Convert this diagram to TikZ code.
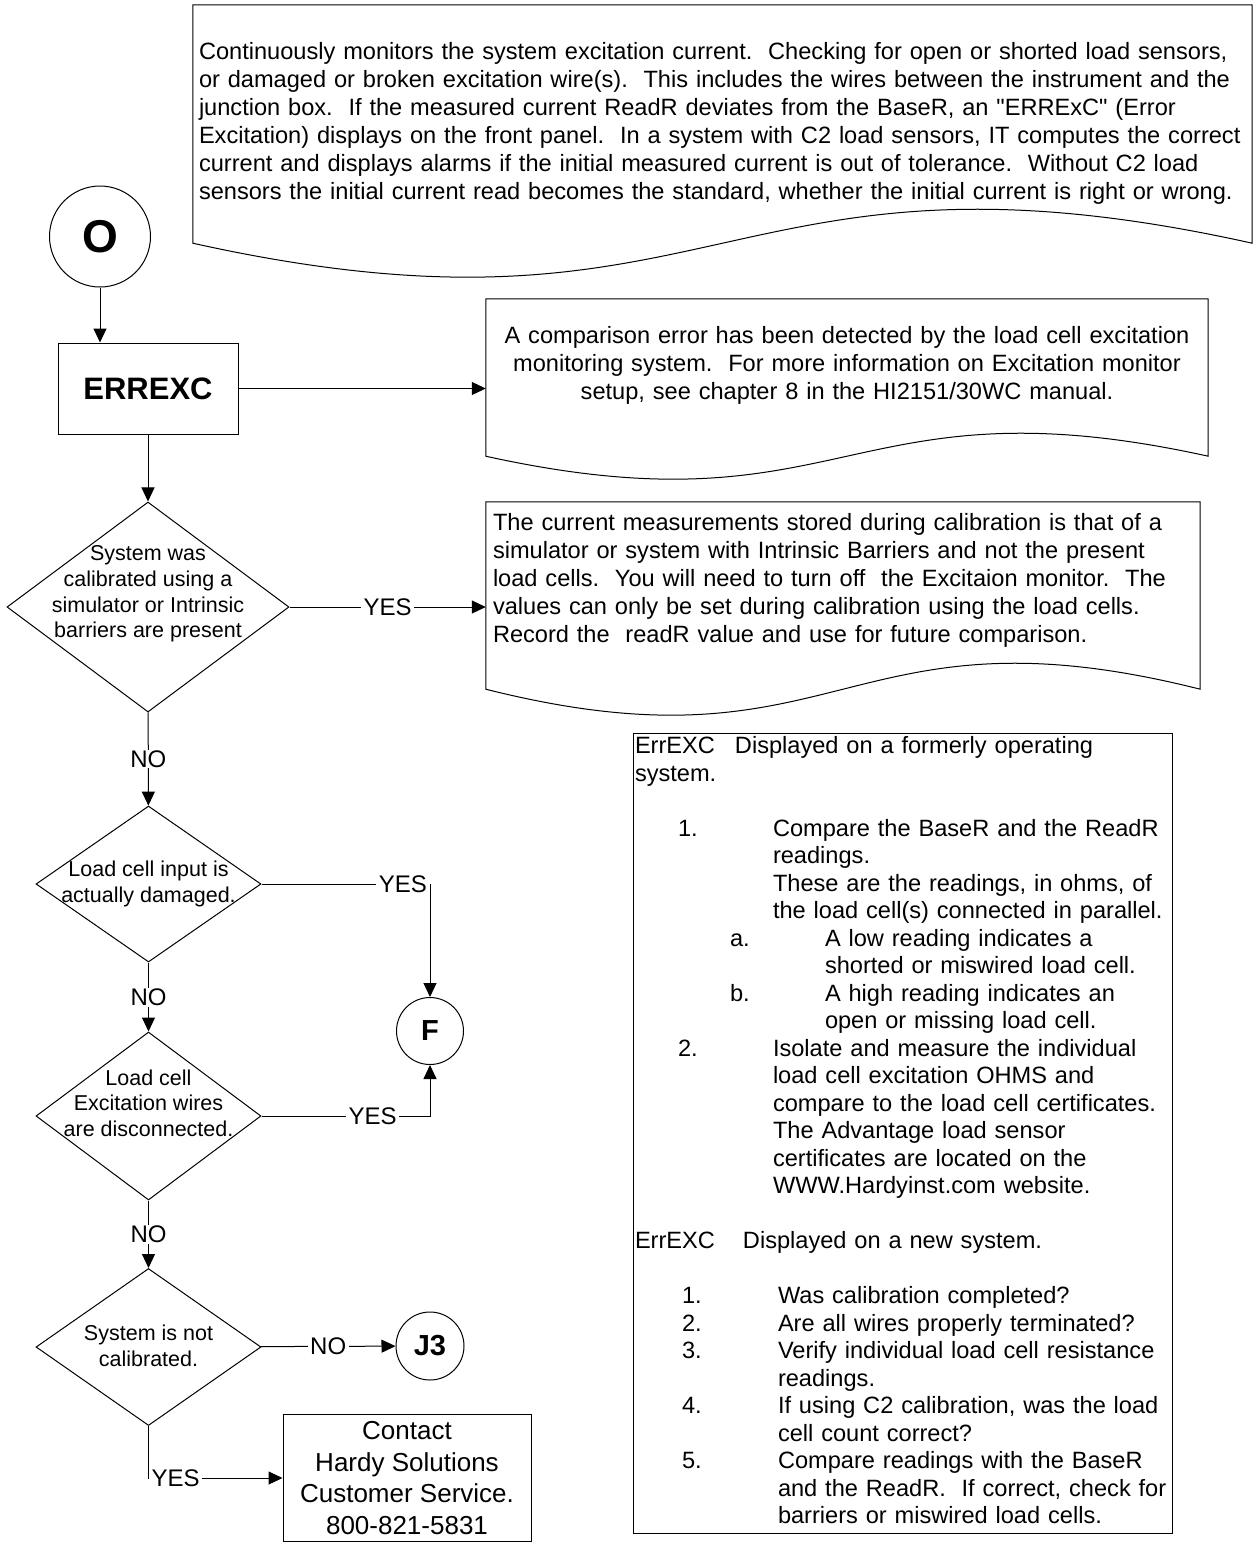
\documentclass[tikz,border=0pt]{standalone}
\usepackage{fontspec}
\setmainfont{Liberation Sans}
\usepackage{tikz}
\usetikzlibrary{arrows.meta,calc,shapes.geometric}
\tikzset{
  flow/.style={-{Triangle[length=14pt,width=13pt]},line width=1pt},
  link/.style={line width=1pt},
  process/.style={draw,line width=1pt,rectangle,inner sep=0pt,align=center},
  docbox/.style={rectangle,inner ysep=0pt,font=\fontsize{23.6}{28}\selectfont},
  decision/.style={draw,line width=1pt,diamond,inner sep=0pt},
  question/.style={inner sep=0pt,align=center,font=\fontsize{21.5}{25.6}\selectfont},
  connector/.style={draw,line width=1pt,circle,inner sep=0pt,
    font=\fontsize{29}{32}\selectfont\bfseries},
  answer/.style={fill=white,inner xsep=2.5pt,inner ysep=1pt,
    font=\fontsize{24}{28}\selectfont}
}
\newcommand{\docoutline}[3]{%
  \draw[link] ($(#1.south west)+(0,#2)$) -- (#1.north west) -- (#1.north east)
    -- ($(#1.south east)+(0,#2)$)
    .. controls ($(#1.south)+(0,{#2-3.46*#3})$) and ($(#1.south)+(0,{#2+3.46*#3})$)
    .. ($(#1.south west)+(0,#2)$) -- cycle;}
\newcommand{\numitem}[3]{\hspace*{#1}\makebox[#2][l]{#3}}

\begin{document}
\begin{tikzpicture}[x=1pt,y=-1pt]
  \useasboundingbox (0,0) rectangle (1255,1543);
  \node[docbox,minimum width=1059pt,minimum height=238pt,inner xsep=6pt,
    text width=1047pt,align=left] (monitor) at (722.5,124)
    {\begin{tabular}{@{}l@{}}
     Continuously monitors the system excitation current.\ \ Checking for open or shorted load sensors,\\
     or damaged or broken excitation wire(s).\ \ This includes the wires between the instrument and the\\
     junction box.\ \ If the measured current ReadR deviates from the BaseR, an \textquotedbl ERRExC\textquotedbl\ (Error\\
     Excitation) displays on the front panel.\ \ In a system with C2 load sensors, IT computes the correct\\
     current and displays alarms if the initial measured current is out of tolerance.\ \ Without C2 load\\
     sensors the initial current read becomes the standard, whether the initial current is right or wrong.
     \end{tabular}};
  \docoutline{monitor}{0}{34}
  \node[connector,minimum size=101pt,font=\fontsize{46}{50}\selectfont\bfseries]
    (start) at (100,236.5) {O};
  \node[process,minimum width=180pt,minimum height=91pt,
    font=\fontsize{31}{36}\selectfont\bfseries] (errexc) at (148,388.5) {ERREXC};
  \node[docbox,minimum width=722pt,minimum height=134pt,inner xsep=11pt,
    text width=700pt,align=center] (compare) at (847,366)
    {\begin{tabular}{@{}c@{}}
     A comparison error has been detected by the load cell excitation\\
     monitoring system.\ \ For more information on Excitation monitor\\
     setup, see chapter 8 in the HI2151/30WC manual.
     \end{tabular}};
  \docoutline{compare}{23}{23}
  \node[decision,minimum width=282pt,minimum height=210pt] (calib) at (148,607) {};
  \node[question] (calibq) at ($(calib)+(0,-13)$)
    {System was\\calibrated using a\\simulator or Intrinsic\\barriers are present};
  \node[docbox,minimum width=714pt,minimum height=157pt,inner xsep=7pt,
    text width=700pt,align=left] (barrier) at (843,580.5)
    {\begin{tabular}{@{}l@{}}
     The current measurements stored during calibration is that of a\\
     simulator or system with Intrinsic Barriers and not the present\\
     load cells.\ \ You will need to turn off\ \ the Excitaion monitor.\ \ The\\
     values can only be set during calibration using the load cells.\\
     Record the\ \ readR value and use for future comparison.
     \end{tabular}};
  \docoutline{barrier}{30}{26}
  \node[decision,minimum width=225pt,minimum height=156pt] (damaged) at (148.5,884) {};
  \node[question] (damagedq) at (damaged) {Load cell input is\\actually damaged.};
  \node[decision,minimum width=225pt,minimum height=168pt] (wires) at (148.5,1116) {};
  \node[question] (wiresq) at ($(wires)+(0,-13)$)
    {Load cell\\Excitation wires\\are disconnected.};
  \node[decision,minimum width=225pt,minimum height=157pt] (notcal) at (148.5,1347) {};
  \node[question] (notcalq) at ($(notcal)+(0,-1)$) {System is not\\calibrated.};
  \node[connector,minimum size=67pt] (fconn) at (430,1031) {F};
  \node[connector,minimum size=68pt] (jthree) at (430,1346) {J3};
  \node[process,minimum width=248pt,minimum height=127pt,
    font=\fontsize{26}{31.7}\selectfont] (contact) at (407,1478)
    {Contact\\Hardy Solutions\hspace*{14pt}\\Customer Service.\\800-821-5831};
  \node[process,minimum width=539pt,minimum height=800pt,inner xsep=2pt,
    text width=535pt,align=left,font=\fontsize{23.6}{27.5}\selectfont]
    (notes) at (902.5,1133)
    {\begin{tabular}{@{}l@{}}
     \makebox[100pt][l]{ErrEXC}Displayed on a formerly operating\\
     system.\\
     \\
     \numitem{43pt}{95pt}{1.}Compare the BaseR and the ReadR\\
     \hspace*{138pt}readings.\\
     \hspace*{138pt}These are the readings, in ohms, of\\
     \hspace*{138pt}the load cell(s) connected in parallel.\\
     \numitem{95pt}{95pt}{a.}A low reading indicates a\\
     \hspace*{190pt}shorted or miswired load cell.\\
     \numitem{95pt}{95pt}{b.}A high reading indicates an\\
     \hspace*{190pt}open or missing load cell.\\
     \numitem{43pt}{95pt}{2.}Isolate and measure the individual\\
     \hspace*{138pt}load cell excitation OHMS and\\
     \hspace*{138pt}compare to the load cell certificates.\\
     \hspace*{138pt}The Advantage load sensor\\
     \hspace*{138pt}certificates are located on the\\
     \hspace*{138pt}WWW.Hardyinst.com website.\\
     \\
     \makebox[108pt][l]{ErrEXC}Displayed on a new system.\\
     \\
     \numitem{47pt}{96pt}{1.}Was calibration completed?\\
     \numitem{47pt}{96pt}{2.}Are all wires properly terminated?\\
     \numitem{47pt}{96pt}{3.}Verify individual load cell resistance\\
     \hspace*{143pt}readings.\\
     \numitem{47pt}{96pt}{4.}If using C2 calibration, was the load\\
     \hspace*{143pt}cell count correct?\\
     \numitem{47pt}{96pt}{5.}Compare readings with the BaseR\\
     \hspace*{143pt}and the ReadR.\ \ If correct, check for\\
     \hspace*{143pt}barriers or miswired load cells.
     \end{tabular}};
  \draw[flow] (start.south) -- (start.south |- errexc.north);
  \draw[flow] (errexc) -- (errexc -| compare.west);
  \draw[flow] (errexc) -- (calib);
  \draw[flow] (calib) -- node[answer] {YES} (calib -| barrier.west);
  \draw[flow] (calib) -- node[answer] {NO} (damaged);
  \draw[flow] (damaged) -| node[answer,anchor=east,pos=0.5] {YES} (fconn);
  \draw[flow] (damaged) -- node[answer] {NO} (wires);
  \draw[flow] (wires) -| node[answer,pos=0.33] {YES} (fconn);
  \draw[flow] (wires) -- node[answer] {NO} (notcal);
  \draw[flow] (notcal) -- node[answer] {NO} (jthree);
  \draw[flow] (notcal) |- node[answer,anchor=west,pos=0.5] {YES} (contact);
\end{tikzpicture}
\end{document}
